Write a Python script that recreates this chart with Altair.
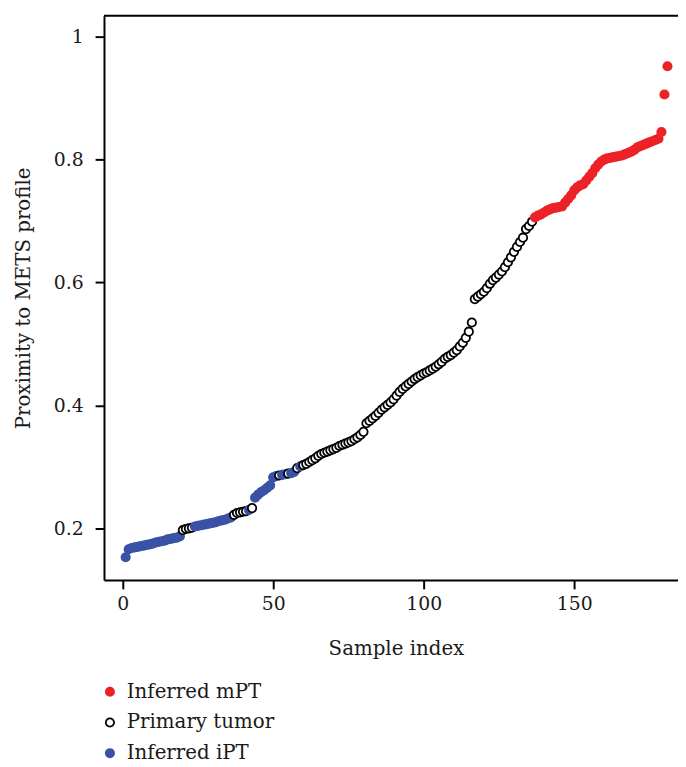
import altair as alt
import pandas as pd

# ---- data ----
sample_index = list(range(1, 182))

proximity = [
    # 1-19
    0.153, 0.166, 0.168, 0.169, 0.170, 0.171, 0.172, 0.173, 0.174, 0.175,
    0.177, 0.178, 0.179, 0.180, 0.182, 0.183, 0.184, 0.185, 0.187,
    # 20-23
    0.197, 0.199, 0.200, 0.201,
    # 24-36
    0.203, 0.204, 0.205, 0.206, 0.207, 0.208, 0.209, 0.210, 0.212, 0.213,
    0.214, 0.216, 0.218,
    # 37-41
    0.222, 0.225, 0.226, 0.227, 0.228,
    # 42, 43
    0.230, 0.233,
    # 44-51
    0.250, 0.255, 0.259, 0.262, 0.266, 0.270, 0.283, 0.285,
    # 52-59
    0.286, 0.287, 0.288, 0.289, 0.290, 0.292, 0.298, 0.301,
    # 60-80
    0.303, 0.305, 0.308, 0.311, 0.314, 0.318, 0.321, 0.323, 0.325, 0.327,
    0.329, 0.331, 0.334, 0.336, 0.338, 0.340, 0.342, 0.345, 0.348, 0.352,
    0.357,
    # 81-116
    0.371, 0.375, 0.379, 0.383, 0.388, 0.393, 0.397, 0.401, 0.405, 0.410,
    0.416, 0.422, 0.427, 0.431, 0.435, 0.439, 0.443, 0.446, 0.449, 0.452,
    0.454, 0.457, 0.460, 0.463, 0.467, 0.471, 0.476, 0.479, 0.482, 0.486,
    0.490, 0.496, 0.502, 0.510, 0.520, 0.535,
    # 117-136
    0.573, 0.577, 0.581, 0.585, 0.591, 0.598, 0.604, 0.608, 0.613, 0.618,
    0.625, 0.633, 0.641, 0.650, 0.658, 0.666, 0.673, 0.687, 0.692, 0.699,
    # 137-181
    0.706, 0.709, 0.711, 0.714, 0.717, 0.719, 0.721, 0.722, 0.723, 0.724,
    0.730, 0.736, 0.742, 0.750, 0.755, 0.758, 0.760, 0.766, 0.772, 0.778,
    0.786, 0.792, 0.797, 0.800, 0.802, 0.803, 0.804, 0.805, 0.806, 0.807,
    0.809, 0.811, 0.813, 0.816, 0.820, 0.822, 0.824, 0.826, 0.828, 0.830,
    0.832, 0.834, 0.845, 0.906, 0.952,
]

group_runs = [
    ("Inferred iPT", 19), ("Primary tumor", 4), ("Inferred iPT", 13),
    ("Primary tumor", 5), ("Inferred iPT", 1), ("Primary tumor", 1),
    ("Inferred iPT", 8), ("Primary tumor", 1), ("Inferred iPT", 2),
    ("Primary tumor", 1), ("Inferred iPT", 2), ("Primary tumor", 1),
    ("Inferred iPT", 1), ("Primary tumor", 77), ("Inferred mPT", 45),
]

categories = ["Inferred mPT", "Primary tumor", "Inferred iPT"]
stroke_colors = ["#EC2227", "#000000", "#3A52A5"]
fill_colors = ["#EC2227", "#FFFFFF", "#3A52A5"]

x_ticks = [0, 50, 100, 150]
y_ticks = [0.2, 0.4, 0.6, 0.8, 1.0]

group = []
for name, n in group_runs:
    group += [name] * n
assert len(group) == len(proximity) == len(sample_index)

df = pd.DataFrame({"index": sample_index, "proximity": proximity, "group": group})

W, H = 580, 570
FONT = "DejaVu Serif"

legend = alt.Legend(title=None, orient="none", legendX=-4, legendY=673,
                    labelFont=FONT, labelFontSize=20, labelColor="#1a1a1a",
                    symbolSize=70, symbolStrokeWidth=1.8, labelOffset=7,
                    rowPadding=11)

points = alt.Chart(df).mark_point(shape="circle", size=72, strokeWidth=1.8, opacity=1, fillOpacity=1).encode(
    x=alt.X("index:Q",
            scale=alt.Scale(domain=[-6.2, 184.5], nice=False, zero=False),
            axis=alt.Axis(values=x_ticks, title="Sample index", labelPadding=6,
                          titleX=295, titleY=75, titleAlign="center", titleBaseline="alphabetic")),
    y=alt.Y("proximity:Q",
            scale=alt.Scale(domain=[0.116, 1.034], nice=False, zero=False),
            axis=alt.Axis(values=y_ticks, format="~g", title="Proximity to METS profile",
                          labelPadding=12, titleX=-75, titleY=285, titleAngle=270,
                          titleAlign="center", titleBaseline="alphabetic")),
    stroke=alt.Stroke("group:N", scale=alt.Scale(domain=categories, range=stroke_colors),
                      legend=legend),
    fill=alt.Fill("group:N", scale=alt.Scale(domain=categories, range=fill_colors),
                  legend=legend),
    order=alt.Order("index:Q"),
)

top_frame = alt.Chart(pd.DataFrame({"k": [0]})).mark_rule(color="black", strokeWidth=2).encode(
    x=alt.value(0), x2=alt.value(W), y=alt.value(0)
)

chart = alt.layer(points, top_frame).properties(
    width=W, height=H,
    padding={"left": 97, "top": 4, "right": 0, "bottom": 181},
    autosize=alt.AutoSizeParams(type="none"),
).configure_view(stroke=None).configure_axis(
    grid=False, domainColor="black", domainWidth=2, tickColor="black", tickWidth=2, tickSize=9,
    labelFont=FONT, labelFontSize=19, labelColor="#1a1a1a",
    titleFont=FONT, titleFontSize=20, titleFontWeight="normal", titleColor="#1a1a1a",
)

chart.save("out.html", embed_options={"renderer": "svg", "actions": False})
